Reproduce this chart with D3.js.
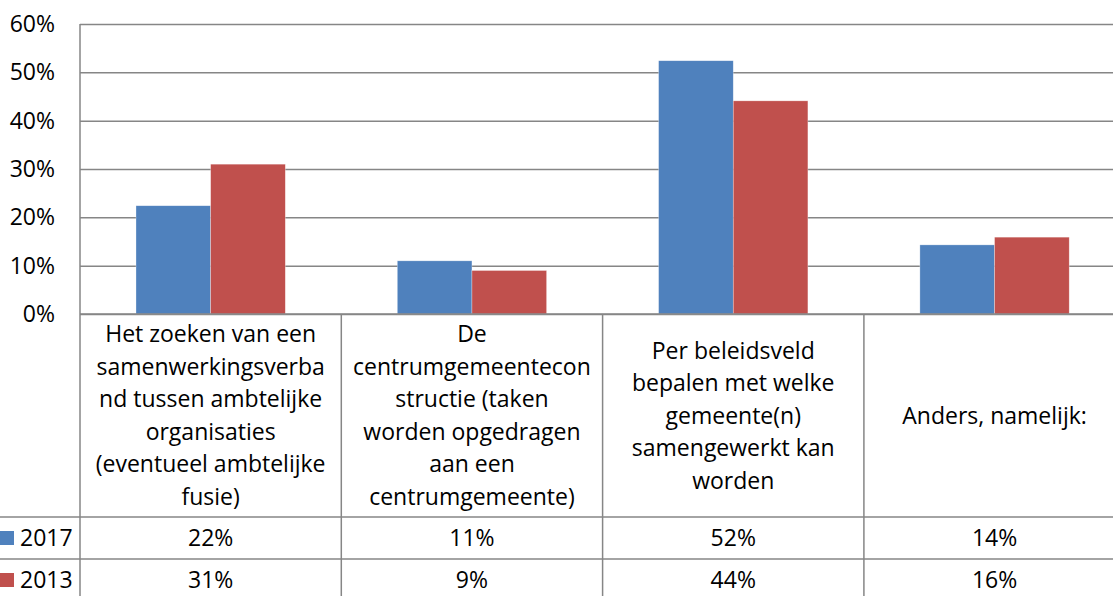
<!DOCTYPE html>
<html>
<head>
<meta charset="utf-8">
<script src="https://cdn.jsdelivr.net/npm/d3@7"></script>
<style>
  body { margin: 0; background: #fff; }
  svg text { font-family: "Open Sans", "Noto Sans", sans-serif; fill: #000; }
</style>
</head>
<body>
<div id="chart"></div>
<script>
// categories, each as the lines shown in the data table
var categories = [
    ["Het zoeken van een", "samenwerkingsverba", "nd tussen ambtelijke", "organisaties", "(eventueel ambtelijke", "fusie)"],
    ["De", "centrumgemeentecon", "structie (taken", "worden opgedragen", "aan een", "centrumgemeente)"],
    ["Per beleidsveld", "bepalen met welke", "gemeente(n)", "samengewerkt kan", "worden"],
    ["Anders, namelijk:"]
];
var seriesNames = ["2017", "2013"];
var values2017 = [22.4, 11.0, 52.4, 14.3];
var values2013 = [31.0, 9.0, 44.1, 15.9];
var yTicks = [0, 10, 20, 30, 40, 50, 60];

var colors = ["#4F81BD", "#C0504D"];
var gridColor = "#868686";

var width = 1113;
var height = 596;
var left = 80;
var catWidth = 261.3;
var top0 = 24;
var bottom0 = 314;
var labelRowEnd = 517;
var rowHeight = 42;
var fontSize = 23;
var lineGap = 32.5;

var svg = d3.select("#chart")
    .append("svg")
    .attr("width", width)
    .attr("height", height);

var x = d3.scaleBand()
    .domain(d3.range(categories.length))
    .range([left, left + catWidth * categories.length])
    .padding(0);

var step = x.bandwidth();
var x1 = d3.scaleBand()
    .domain(seriesNames)
    .range([step * 0.75 / 3.5, step * 2.75 / 3.5]);

var y = d3.scaleLinear()
    .domain([0, 60])
    .range([bottom0, top0]);

// gridlines + y labels
var yAxis = d3.axisLeft(y)
    .tickValues(yTicks)
    .tickSize(-(width - left))
    .tickPadding(25)
    .tickFormat(d => d + "%");

var gy = svg.append("g")
    .attr("transform", "translate(" + left + ",0)")
    .call(yAxis);
gy.select(".domain").remove();
gy.selectAll("line").attr("stroke", gridColor).attr("stroke-width", 1.5);
gy.selectAll("text")
    .style("font-size", fontSize + "px")
    .attr("fill", "#000");

var data = [values2017, values2013];

// bars
var groups = svg.selectAll(".series")
    .data(seriesNames)
    .enter().append("g")
    .attr("class", "series")
    .attr("fill", (d, i) => colors[i]);

groups.selectAll("rect")
    .data((d, i) => data[i].map((v, j) => ({ s: d, v: v, c: j })))
    .enter().append("rect")
    .attr("x", d => x(d.c) + x1(d.s))
    .attr("y", d => y(d.v))
    .attr("width", x1.bandwidth())
    .attr("height", d => y(0) - y(d.v))
    .attr("stroke", "rgba(255,255,255,0.5)")
    .attr("stroke-width", 0.6);

// table lines
var lines = svg.append("g")
    .attr("stroke", gridColor)
    .attr("stroke-width", 1.5);

lines.append("line")
    .attr("x1", left).attr("x2", left)
    .attr("y1", top0).attr("y2", height);

lines.selectAll(".vsep")
    .data(d3.range(1, categories.length))
    .enter().append("line")
    .attr("x1", d => x(d))
    .attr("x2", d => x(d))
    .attr("y1", bottom0).attr("y2", height);

lines.append("line")
    .attr("x1", left).attr("x2", width)
    .attr("y1", bottom0).attr("y2", bottom0);

lines.selectAll(".hsep")
    .data([labelRowEnd, labelRowEnd + rowHeight])
    .enter().append("line")
    .attr("x1", 0).attr("x2", width)
    .attr("y1", d => d).attr("y2", d => d);

// category labels
var mid = (bottom0 + labelRowEnd) / 2;
var catLabels = svg.selectAll(".cat")
    .data(categories)
    .enter().append("text")
    .attr("class", "cat")
    .attr("text-anchor", "middle")
    .style("font-size", fontSize + "px");

catLabels.selectAll("tspan")
    .data((d, i) => d.map((t, k) => ({ t: t, k: k, n: d.length, c: i })))
    .enter().append("tspan")
    .attr("x", d => x(d.c) + step / 2)
    .attr("y", d => mid + (d.k - (d.n - 1) / 2) * lineGap)
    .attr("dy", "0.35em")
    .text(d => d.t);

// value rows
var fmt = v => d3.format(".0f")(v) + "%";
seriesNames.forEach(function (s, i) {
    var cy = labelRowEnd + rowHeight * i + rowHeight / 2;
    svg.append("rect")
        .attr("x", 0)
        .attr("y", cy - 7)
        .attr("width", 14)
        .attr("height", 14)
        .attr("fill", colors[i]);
    svg.append("text")
        .attr("x", 20)
        .attr("y", cy)
        .attr("dy", "0.35em")
        .style("font-size", fontSize + "px")
        .text(s);
    svg.selectAll(".val" + i)
        .data(data[i])
        .enter().append("text")
        .attr("x", (d, j) => x(j) + step / 2)
        .attr("y", cy)
        .attr("dy", "0.35em")
        .attr("text-anchor", "middle")
        .style("font-size", fontSize + "px")
        .text(fmt);
});
</script>
</body>
</html>
